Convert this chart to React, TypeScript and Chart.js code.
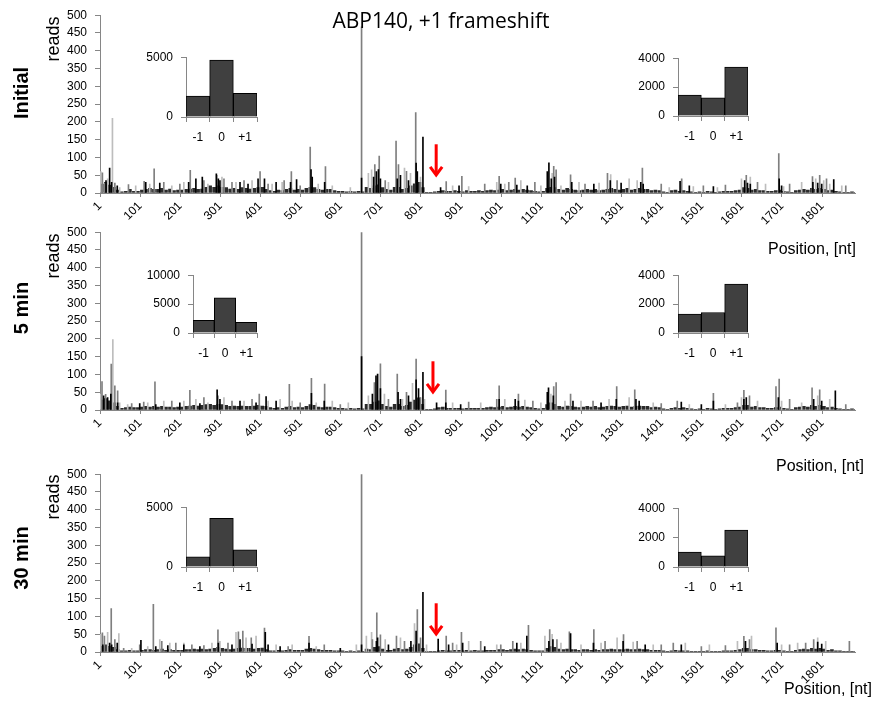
import React, { useEffect, useRef } from 'react';
import { Chart, registerables } from 'chart.js';

Chart.register(...registerables);

const FONT = '"Liberation Sans", Arial, sans-serif';
const AXIS_COLOR = '#868686';

// ---------- axis definitions ----------
const X_TICKS = [1, 101, 201, 301, 401, 501, 601, 701, 801, 901, 1001, 1101, 1201, 1301, 1401, 1501, 1601, 1701, 1801];
const X_MIN = 1;
const X_MAX = 1883;
const Y_MAX = 500;
const Y_STEP = 50;
const BIN_WIDTH = 10;
const FRAME_LABELS = ['-1', '0', '+1'];

// ---------- Initial ----------
const initialBase = [
  25, 30, 22, 16, 8, 3, 5, 10, 5, 5,
  8, 10, 13, 10, 10, 13, 8, 11, 7, 8,
  8, 10, 11, 13, 10, 11, 16, 20, 16, 20,
  16, 15, 11, 13, 10, 15, 13, 11, 13, 15,
  16, 10, 7, 5, 8, 7, 10, 13, 8, 10,
  8, 13, 16, 15, 10, 8, 10, 10, 7, 5,
  5, 3, 5, 3, 5, 3, 16, 13, 20, 23,
  15, 10, 8, 16, 16, 10, 13, 20, 26, 30,
  15, 2, 2, 3, 5, 7, 5, 5, 7, 5,
  3, 7, 5, 5, 7, 5, 7, 8, 7, 8,
  10, 7, 8, 10, 8, 10, 8, 7, 5, 3,
  5, 13, 16, 15, 10, 8, 13, 10, 8, 7,
  8, 10, 8, 10, 7, 8, 10, 13, 10, 8,
  10, 13, 8, 10, 13, 10, 10, 7, 8, 7,
  3, 2, 7, 8, 5, 7, 5, 3, 2, 3,
  2, 5, 3, 2, 3, 5, 5, 5, 7, 8,
  15, 13, 8, 10, 7, 7, 5, 5, 7, 8,
  5, 3, 2, 7, 8, 10, 8, 13, 10, 13,
  10, 7, 8, 5, 3, 2, 2, 3, 2,
];
const initialBlack = [
  [16, 35], [25, 70], [30, 30], [44, 20], [115, 30], [150, 28], [222, 30], [240, 40], [256, 45], [291, 54],
  [296, 40], [300, 35], [350, 30], [370, 25], [395, 40], [411, 40], [440, 30], [476, 30], [491, 38], [527, 66],
  [530, 45], [561, 30], [653, 42], [683, 45], [690, 60], [695, 66], [700, 40], [742, 40], [750, 50], [770, 35],
  [789, 84], [792, 60], [806, 157], [850, 15], [896, 20], [1000, 25], [1040, 22], [1066, 20], [1116, 60], [1120, 85],
  [1126, 40], [1134, 45], [1177, 30], [1232, 25], [1273, 35], [1300, 28], [1349, 30], [1355, 25], [1447, 33], [1470, 20],
  [1530, 18], [1608, 35], [1615, 28], [1622, 25], [1694, 40], [1700, 20], [1778, 30], [1790, 28], [1800, 25], [1830, 38],
];
const initialGray = [
  [7, 57], [13, 28], [38, 28], [72, 24], [111, 33], [136, 68], [160, 30], [200, 25], [226, 64], [260, 35],
  [292, 50], [310, 40], [330, 30], [360, 35], [400, 60], [420, 25], [460, 35], [478, 60], [500, 20], [525, 129],
  [563, 74], [653, 467], [686, 80], [697, 104], [712, 35], [739, 146], [745, 80], [765, 61], [788, 226], [800, 30],
  [864, 32], [903, 47], [960, 25], [996, 47], [1020, 30], [1036, 42], [1085, 30], [1132, 75], [1138, 65], [1174, 51],
  [1210, 25], [1266, 55], [1290, 35], [1353, 70], [1400, 25], [1451, 40], [1505, 20], [1560, 22], [1612, 50], [1640, 30],
  [1693, 111], [1720, 25], [1777, 46], [1795, 50], [1812, 40], [1860, 20],
];
const initialLight = [
  [3, 60], [20, 40], [32, 210], [50, 15], [90, 20], [125, 25], [180, 20], [210, 30], [270, 25], [305, 45],
  [340, 30], [380, 35], [430, 25], [455, 30], [545, 25], [580, 20], [625, 15], [670, 55], [678, 65], [720, 30],
  [760, 70], [775, 55], [800, 45], [880, 20], [920, 18], [990, 30], [1010, 25], [1050, 35], [1100, 20], [1128, 55],
  [1150, 20], [1195, 30], [1245, 28], [1274, 52], [1320, 40], [1340, 35], [1420, 15], [1480, 18], [1540, 15], [1600, 40],
  [1622, 45], [1660, 25], [1705, 18], [1750, 30], [1785, 40], [1805, 35], [1820, 25], [1850, 20],
];

// ---------- 5 min ----------
const min5Base = [
  28, 32, 26, 20, 10, 5, 7, 8, 7, 7,
  8, 10, 8, 10, 8, 10, 8, 8, 7, 8,
  8, 10, 11, 13, 11, 13, 15, 16, 13, 16,
  15, 13, 10, 11, 10, 11, 10, 10, 11, 13,
  11, 10, 7, 5, 7, 5, 8, 10, 7, 8,
  7, 10, 15, 13, 8, 7, 8, 8, 7, 5,
  5, 3, 5, 3, 5, 3, 16, 16, 22, 26,
  16, 10, 8, 16, 16, 10, 13, 22, 28, 34,
  16, 2, 2, 3, 7, 8, 5, 5, 5, 5,
  3, 5, 5, 5, 5, 5, 7, 8, 7, 8,
  10, 7, 8, 10, 8, 10, 8, 7, 5, 3,
  5, 15, 20, 16, 10, 8, 11, 10, 8, 7,
  8, 10, 8, 10, 7, 8, 10, 11, 10, 8,
  10, 11, 8, 10, 11, 10, 10, 7, 8, 7,
  3, 2, 5, 7, 5, 7, 5, 3, 2, 3,
  2, 5, 3, 2, 3, 5, 5, 5, 7, 8,
  13, 13, 8, 10, 7, 7, 5, 5, 7, 8,
  5, 3, 2, 7, 8, 10, 8, 13, 10, 13,
  10, 7, 8, 5, 3, 2, 2, 3, 2,
];
const min5Black = [
  [10, 40], [20, 35], [28, 45], [45, 20], [100, 18], [140, 15], [200, 20], [250, 18], [293, 57], [300, 30],
  [350, 25], [390, 20], [415, 38], [440, 25], [528, 47], [560, 25], [653, 150], [680, 45], [689, 96], [693, 101],
  [700, 60], [744, 50], [750, 30], [770, 40], [789, 85], [795, 60], [806, 106], [840, 20], [863, 20], [900, 15],
  [996, 30], [1036, 30], [1044, 25], [1116, 50], [1119, 62], [1131, 40], [1180, 25], [1250, 20], [1288, 30], [1337, 30],
  [1345, 25], [1450, 22], [1500, 15], [1530, 25], [1606, 30], [1612, 35], [1692, 35], [1780, 30], [1800, 25], [1834, 54],
];
const min5Gray = [
  [6, 80], [15, 44], [29, 129], [38, 68], [45, 54], [80, 18], [110, 22], [138, 79], [180, 25], [225, 55],
  [260, 35], [295, 40], [330, 25], [380, 30], [398, 45], [473, 72], [500, 20], [528, 89], [561, 73], [600, 15],
  [653, 560], [685, 77], [700, 130], [720, 30], [742, 101], [765, 50], [789, 143], [800, 35], [863, 56], [920, 22],
  [990, 30], [996, 68], [1044, 45], [1080, 25], [1132, 66], [1138, 77], [1174, 45], [1230, 25], [1289, 66], [1334, 57],
  [1400, 18], [1440, 25], [1530, 47], [1590, 20], [1606, 55], [1620, 40], [1686, 66], [1694, 87], [1720, 30], [1776, 62],
  [1795, 57], [1860, 15],
];
const min5Light = [
  [3, 45], [33, 198], [50, 20], [70, 15], [120, 20], [160, 25], [210, 25], [240, 30], [270, 20], [310, 35],
  [360, 25], [420, 25], [450, 30], [480, 25], [540, 20], [580, 25], [620, 20], [670, 40], [710, 45], [755, 30],
  [780, 75], [810, 30], [880, 20], [950, 20], [1010, 30], [1060, 28], [1100, 20], [1125, 45], [1160, 25], [1200, 25],
  [1270, 30], [1320, 35], [1380, 20], [1470, 15], [1560, 15], [1600, 35], [1640, 25], [1700, 25], [1750, 20], [1790, 40],
  [1820, 30],
];

// ---------- 30 min ----------
const min30Base = [
  16, 20, 16, 13, 7, 3, 3, 5, 3, 3,
  5, 7, 7, 5, 7, 8, 5, 7, 5, 5,
  5, 7, 7, 8, 7, 8, 7, 8, 10, 13,
  10, 8, 7, 8, 10, 11, 10, 10, 8, 10,
  11, 7, 3, 3, 5, 3, 5, 7, 5, 5,
  5, 8, 10, 8, 7, 5, 5, 5, 3, 3,
  3, 2, 3, 2, 3, 2, 8, 7, 13, 15,
  8, 5, 5, 8, 10, 7, 8, 13, 20, 23,
  10, 2, 2, 2, 3, 5, 3, 3, 5, 5,
  3, 5, 3, 5, 3, 3, 5, 5, 5, 7,
  7, 5, 7, 8, 7, 8, 7, 5, 3, 3,
  3, 10, 15, 13, 8, 7, 8, 7, 7, 5,
  7, 7, 5, 7, 5, 7, 7, 8, 7, 7,
  7, 8, 7, 7, 8, 7, 7, 5, 5, 5,
  3, 2, 3, 5, 3, 3, 3, 2, 2, 2,
  2, 3, 2, 2, 2, 3, 3, 3, 5, 7,
  10, 10, 7, 7, 5, 5, 3, 3, 5, 5,
  3, 2, 2, 5, 7, 8, 7, 10, 8, 10,
  8, 5, 7, 3, 3, 2, 2, 2, 2,
];
const min30Black = [
  [8, 20], [25, 25], [30, 20], [44, 25], [103, 33], [140, 15], [170, 18], [210, 20], [250, 15], [296, 25],
  [330, 20], [350, 35], [380, 22], [413, 55], [420, 20], [450, 15], [522, 25], [600, 10], [653, 20], [690, 30],
  [693, 40], [720, 20], [776, 30], [789, 59], [806, 168], [844, 36], [870, 20], [905, 25], [960, 15], [1040, 25],
  [1065, 45], [1120, 30], [1130, 35], [1174, 52], [1231, 25], [1305, 30], [1360, 20], [1450, 20], [1610, 30], [1689, 25],
  [1790, 28], [1800, 22],
];
const min30Gray = [
  [7, 54], [12, 45], [29, 122], [38, 35], [60, 10], [100, 20], [134, 134], [155, 30], [190, 25], [230, 20],
  [260, 18], [295, 62], [320, 25], [346, 57], [357, 59], [378, 40], [411, 67], [470, 15], [522, 44], [560, 20],
  [653, 560], [680, 35], [691, 110], [700, 48], [740, 45], [760, 30], [792, 119], [800, 40], [864, 45], [880, 25],
  [902, 55], [950, 30], [1000, 20], [1030, 30], [1069, 75], [1122, 63], [1140, 35], [1171, 57], [1232, 63], [1260, 30],
  [1306, 49], [1340, 30], [1400, 20], [1430, 25], [1500, 15], [1560, 18], [1606, 44], [1620, 35], [1686, 68], [1720, 20],
  [1760, 25], [1780, 35], [1869, 30],
];
const min30Light = [
  [3, 50], [20, 55], [48, 52], [80, 10], [120, 15], [150, 35], [175, 25], [210, 25], [280, 25], [300, 30],
  [340, 55], [365, 40], [390, 45], [440, 20], [480, 20], [540, 15], [640, 20], [665, 45], [678, 55], [712, 35],
  [750, 40], [785, 80], [815, 20], [890, 20], [920, 30], [990, 20], [1050, 25], [1110, 45], [1128, 50], [1150, 25],
  [1200, 20], [1250, 25], [1290, 40], [1330, 28], [1380, 20], [1460, 25], [1520, 20], [1590, 30], [1625, 45], [1700, 20],
  [1740, 25], [1790, 40], [1810, 30],
];

// ---------- frame insets (reads per frame) ----------
const initialFramesEarly = [1739, 4760, 1979];
const initialFramesLate = [1443, 1266, 3390];
const min5FramesEarly = [2180, 6066, 1852];
const min5FramesLate = [1311, 1421, 3390];
const min30FramesEarly = [853, 4067, 1435];
const min30FramesLate = [1018, 758, 2508];

// ---------- frameshift site arrow ----------
const ARROW_POS = [839, 831, 839];
const ARROW_FROM = 137;
const ARROW_TO = 48;

type Pair = number[];

function ProfilePanel(props: { chartTop: number; base: number[]; black: Pair[]; gray: Pair[]; light: Pair[]; arrowPos: number }) {
  const ref = useRef<HTMLCanvasElement>(null);
  const PAD_TOP = 15;
  const AREA_H = 178;
  const X_AXIS_H = 37;
  const H = PAD_TOP + AREA_H + X_AXIS_H;
  useEffect(() => {
    const toPts = (arr: Pair[]) => arr.map(([x, y]) => ({ x, y }));
    const basePts = props.base.map((v, i) => ({ x: X_MIN + i * BIN_WIDTH + (BIN_WIDTH - 1) / 2, y: v }));
    const arrow = {
      id: 'fsArrow',
      afterDatasetsDraw(chart: any) {
        const { ctx } = chart;
        const xs = chart.scales.x;
        const ys = chart.scales.y;
        const px = xs.getPixelForValue(props.arrowPos);
        const y0 = ys.getPixelForValue(ARROW_FROM);
        const y1 = ys.getPixelForValue(ARROW_TO);
        ctx.save();
        ctx.strokeStyle = '#ff0000';
        ctx.lineWidth = 3;
        ctx.lineCap = 'butt';
        ctx.lineJoin = 'miter';
        ctx.beginPath();
        ctx.moveTo(px, y0);
        ctx.lineTo(px, y1 - 2);
        ctx.stroke();
        ctx.beginPath();
        ctx.moveTo(px - 6, y1 - 9);
        ctx.lineTo(px, y1 - 1);
        ctx.lineTo(px + 6, y1 - 9);
        ctx.stroke();
        ctx.restore();
      },
    };
    const common = { grouped: false, borderWidth: 0 };
    const chart = new Chart(ref.current as HTMLCanvasElement, {
      type: 'bar',
      data: {
        datasets: [
          { ...common, data: toPts(props.black), backgroundColor: '#000000', barThickness: 1, order: 0 },
          { ...common, data: toPts(props.gray), backgroundColor: '#7f7f7f', barThickness: 1, order: 1 },
          { ...common, data: toPts(props.light), backgroundColor: '#bdbdbd', barThickness: 1, order: 2 },
          { ...common, data: basePts, backgroundColor: '#2b2b2b', barThickness: 3, order: 3 },
        ] as any,
      },
      options: {
        animation: false,
        responsive: false,
        maintainAspectRatio: false,
        devicePixelRatio: 1,
        layout: { padding: { left: 0, right: 18, top: PAD_TOP, bottom: 0 } },
        plugins: { legend: { display: false }, tooltip: { enabled: false }, title: { display: false } },
        scales: {
          x: {
            type: 'linear',
            min: X_MIN,
            max: X_MAX,
            offset: false,
            afterBuildTicks: (s: any) => {
              s.ticks = X_TICKS.map((v) => ({ value: v }));
            },
            afterFit: (s: any) => {
              s.height = X_AXIS_H;
            },
            grid: { display: true, drawOnChartArea: false, drawTicks: true, tickLength: 4, color: AXIS_COLOR, offset: false },
            border: { display: true, color: AXIS_COLOR },
            ticks: {
              autoSkip: false,
              maxRotation: 45,
              minRotation: 45,
              padding: 2,
              color: '#000',
              font: { family: FONT, size: 12 },
              callback: (v: any) => String(v),
            },
          },
          y: {
            min: 0,
            max: Y_MAX,
            afterFit: (s: any) => {
              s.width = 100;
            },
            grid: { display: true, drawOnChartArea: false, drawTicks: true, tickLength: 5, color: AXIS_COLOR },
            border: { display: true, color: AXIS_COLOR },
            ticks: { stepSize: Y_STEP, padding: 8, color: '#000', font: { family: FONT, size: 12 }, callback: (v: any) => String(v) },
          },
        },
      } as any,
      plugins: [arrow],
    });
    return () => chart.destroy();
  }, []);
  return (
    <canvas
      ref={ref}
      width={873}
      height={H}
      style={{ position: 'absolute', left: 0, top: props.chartTop - PAD_TOP, width: 873, height: H }}
    />
  );
}

function FrameInset(props: { left: number; top: number; right: number; bottom: number; max: number; step: number; values: number[] }) {
  const ref = useRef<HTMLCanvasElement>(null);
  const PL = 70;
  const PT = 12;
  const PR = 10;
  const XH = 35;
  const W = props.right - props.left + PL + PR;
  const H = props.bottom - props.top + PT + XH;
  useEffect(() => {
    const chart = new Chart(ref.current as HTMLCanvasElement, {
      type: 'bar',
      data: {
        labels: FRAME_LABELS,
        datasets: [
          {
            data: props.values,
            backgroundColor: '#404040',
            borderColor: '#000000',
            borderWidth: 1,
            categoryPercentage: 1,
            barPercentage: 1,
          },
        ],
      },
      options: {
        animation: false,
        responsive: false,
        maintainAspectRatio: false,
        devicePixelRatio: 1,
        layout: { padding: { left: 0, right: PR, top: PT, bottom: 0 } },
        plugins: { legend: { display: false }, tooltip: { enabled: false } },
        scales: {
          x: {
            type: 'category',
            offset: true,
            afterFit: (s: any) => {
              s.height = XH;
            },
            grid: { display: true, offset: true, drawOnChartArea: false, tickLength: 5, color: AXIS_COLOR },
            border: { display: true, color: AXIS_COLOR },
            ticks: { color: '#000', padding: 8, font: { family: FONT, size: 12 } },
          },
          y: {
            min: 0,
            max: props.max,
            afterFit: (s: any) => {
              s.width = PL;
            },
            grid: { display: true, drawOnChartArea: false, tickLength: 5, color: AXIS_COLOR },
            border: { display: true, color: AXIS_COLOR },
            ticks: { stepSize: props.step, padding: 8, color: '#000', font: { family: FONT, size: 12 }, callback: (v: any) => String(v) },
          },
        },
      } as any,
    });
    return () => chart.destroy();
  }, []);
  return (
    <canvas
      ref={ref}
      width={W}
      height={H}
      style={{ position: 'absolute', left: props.left - PL, top: props.top - PT, width: W, height: H }}
    />
  );
}

function VText(props: { x: number; y: number; text: string; size: number; bold?: boolean }) {
  return (
    <div
      style={{
        position: 'absolute',
        left: props.x,
        top: props.y,
        transform: 'translate(-50%, -50%) rotate(-90deg)',
        whiteSpace: 'nowrap',
        fontFamily: FONT,
        fontSize: props.size,
        fontWeight: props.bold ? 'bold' : 'normal',
        color: '#000',
        lineHeight: 1,
      }}
    >
      {props.text}
    </div>
  );
}

function HText(props: { right: number; y: number; text: string; size: number; family?: string }) {
  return (
    <div
      style={{
        position: 'absolute',
        right: 873 - props.right,
        top: props.y,
        transform: 'translateY(-50%)',
        whiteSpace: 'nowrap',
        fontFamily: props.family || FONT,
        fontSize: props.size,
        color: '#000',
        lineHeight: 1,
      }}
    >
      {props.text}
    </div>
  );
}

export default function App() {
  const panels = [
    { chartTop: 15, base: initialBase, black: initialBlack, gray: initialGray, light: initialLight, arrow: ARROW_POS[0] },
    { chartTop: 232, base: min5Base, black: min5Black, gray: min5Gray, light: min5Light, arrow: ARROW_POS[1] },
    { chartTop: 474, base: min30Base, black: min30Black, gray: min30Gray, light: min30Light, arrow: ARROW_POS[2] },
  ];
  return (
    <div style={{ position: 'absolute', left: 0, top: 0, width: 873, height: 702, background: '#fff', overflow: 'hidden' }}>
      {panels.map((p, i) => (
        <ProfilePanel key={i} chartTop={p.chartTop} base={p.base} black={p.black} gray={p.gray} light={p.light} arrowPos={p.arrow} />
      ))}
      <FrameInset left={186} right={257} top={54} bottom={117} max={5000} step={5000} values={initialFramesEarly} />
      <FrameInset left={678} right={748} top={55} bottom={116} max={4000} step={2000} values={initialFramesLate} />
      <FrameInset left={193} right={257} top={272} bottom={333} max={10000} step={5000} values={min5FramesEarly} />
      <FrameInset left={678} right={748} top={272} bottom={333} max={4000} step={2000} values={min5FramesLate} />
      <FrameInset left={186} right={257} top={504} bottom={567} max={5000} step={5000} values={min30FramesEarly} />
      <FrameInset left={678} right={748} top={505} bottom={567} max={4000} step={2000} values={min30FramesLate} />

      <div
        style={{
          position: 'absolute',
          left: 441,
          top: 20,
          transform: 'translate(-50%, -50%)',
          whiteSpace: 'nowrap',
          fontFamily: '"Open Sans", sans-serif',
          fontSize: 21,
          color: '#000',
          lineHeight: 1,
        }}
      >
        ABP140, +1 frameshift
      </div>

      <VText x={53} y={39} text="reads" size={18} />
      <VText x={53} y={256} text="reads" size={18} />
      <VText x={53} y={497} text="reads" size={18} />

      <VText x={21} y={93} text="Initial" size={20} bold />
      <VText x={21} y={308} text="5 min" size={20} bold />
      <VText x={21} y={558} text="30 min" size={20} bold />

      <HText right={856} y={249} text="Position, [nt]" size={16} />
      <HText right={864} y={466} text="Position, [nt]" size={16} />
      <HText right={872} y={689} text="Position, [nt]" size={16} />
    </div>
  );
}
